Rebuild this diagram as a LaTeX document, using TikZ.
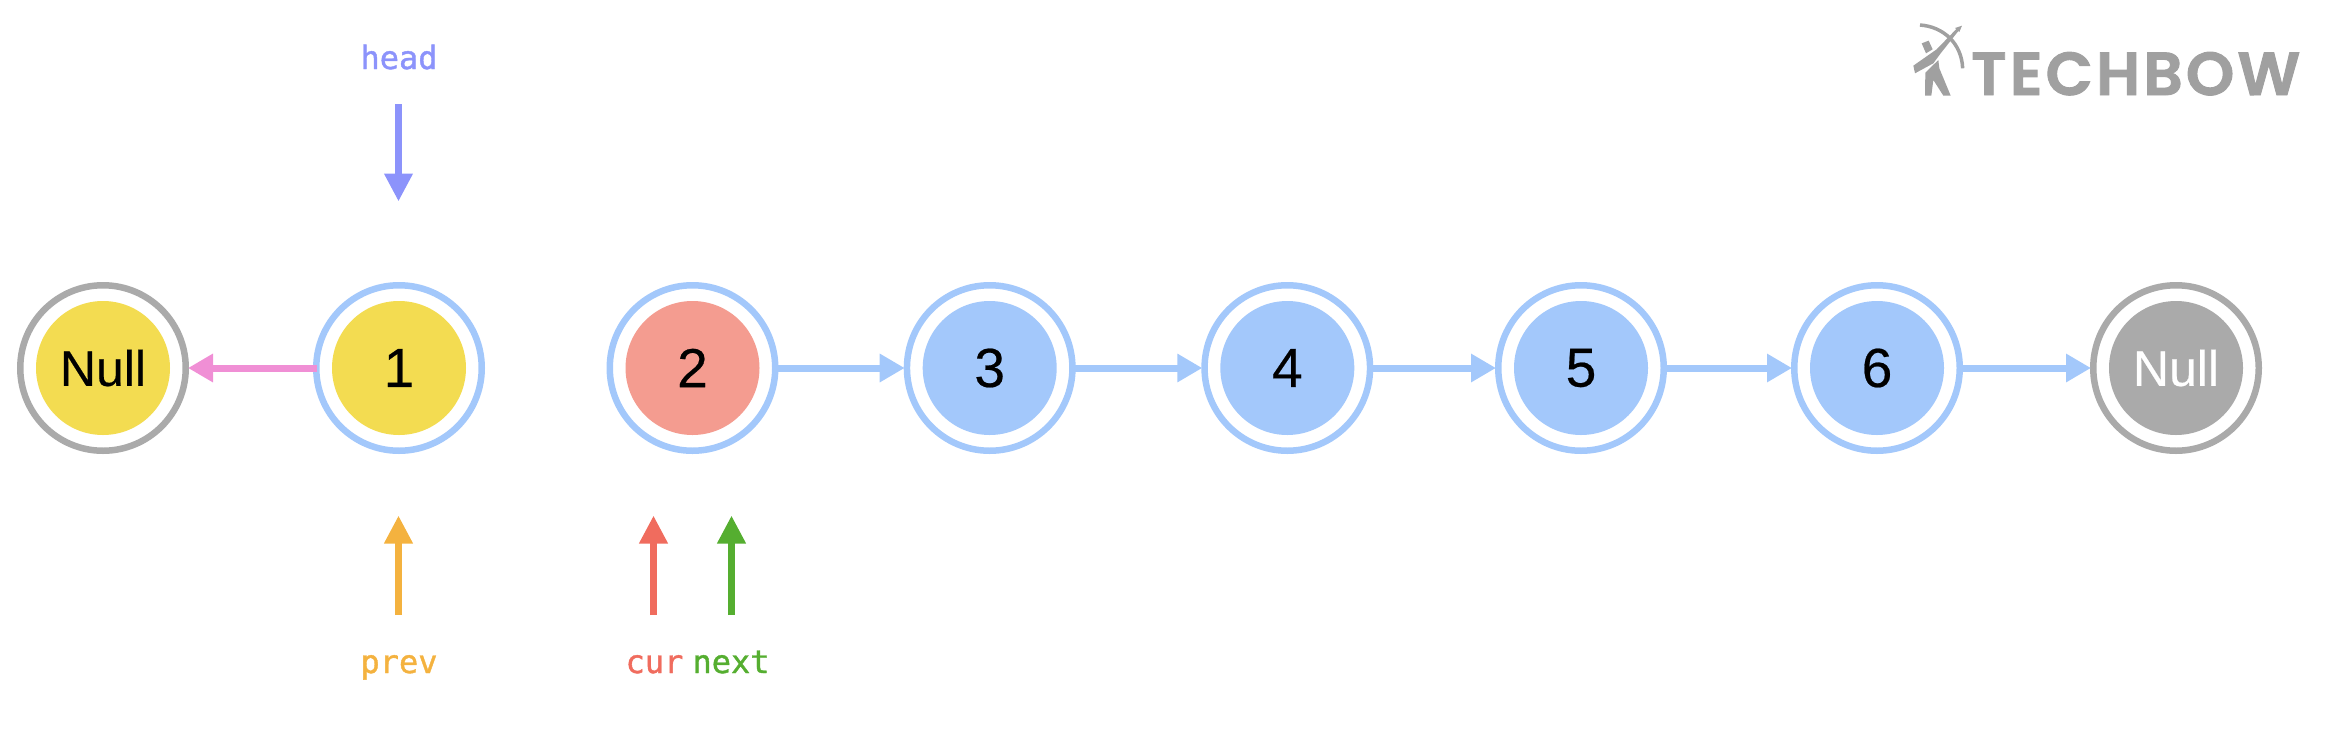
\documentclass[tikz,border=0pt]{standalone}
\usepackage{fontspec}
\setmainfont{Liberation Sans}
\newfontfamily\nodefont{Liberation Sans}[RawFeature={embolden=0.4}]
\newfontfamily\labelfont{DejaVu Sans Mono}[RawFeature={embolden=1.2}]
\newfontfamily\logofont{Poppins SemiBold}[LetterSpace=5,RawFeature={embolden=1.5}]
\usetikzlibrary{arrows.meta}
\definecolor{cyellow}{HTML}{F3DC51}
\definecolor{cred}{HTML}{F49C90}
\definecolor{cblue}{HTML}{A3C8FB}
\definecolor{cgray}{HTML}{AAAAAA}
\definecolor{cpink}{HTML}{F08FD5}
\definecolor{corange}{HTML}{F4B23F}
\definecolor{ccoral}{HTML}{F06C5E}
\definecolor{cgreen}{HTML}{55AE30}
\definecolor{cpurple}{HTML}{8C93FB}
\definecolor{clogo}{HTML}{A0A0A0}
\tikzset{
  x=1pt,y=-1pt,
  ring/.style={circle,draw=#1,fill=white,line width=6.5pt,minimum size=165.5pt,inner sep=0pt},
  core/.style={circle,fill=#1,minimum size=134pt,inner sep=0pt,font=\nodefont\fontsize{50}{60}\selectfont},
  digit/.style={circle,fill=#1,minimum size=134pt,inner sep=0pt,font=\nodefont\fontsize{55}{60}\selectfont},
  link/.style={line width=7pt,draw=#1,shorten <=-3.5pt,shorten >=-1pt,-{Triangle[length=25pt,width=27pt,fill=#1]}},
  vlink/.style={line width=7pt,draw=#1,shorten >=-1.5pt,-{Triangle[length=28pt,width=27pt,fill=#1]}},
  ptr/.style={text=#1,anchor=base,font=\labelfont\fontsize{32}{36}\selectfont}
}
\begin{document}
\begin{tikzpicture}
\useasboundingbox (0,0) rectangle (2340,742);
% nodes
\node[ring=cgray] (o0) at (103,368) {};
\node[core=cyellow] (n0) at (o0) {Null};
\node[ring=cblue] (o1) at (399,368) {};
\node[digit=cyellow] (n1) at (o1) {1};
\node[ring=cblue] (o2) at (692.5,368) {};
\node[digit=cred] (n2) at (o2) {2};
\node[ring=cblue] (o3) at (989.7,368) {};
\node[digit=cblue] (n3) at (o3) {3};
\node[ring=cblue] (o4) at (1287.3,368) {};
\node[digit=cblue] (n4) at (o4) {4};
\node[ring=cblue] (o5) at (1581,368) {};
\node[digit=cblue] (n5) at (o5) {5};
\node[ring=cblue] (o6) at (1877,368) {};
\node[digit=cblue] (n6) at (o6) {6};
\node[ring=cgray] (o7) at (2176,368) {};
\node[core=cgray,text=white] (n7) at (o7) {Null};
% links
\draw[link=cpink] (o1.west) -- (o0.east);
\draw[link=cblue] (o2.east) -- (o3.west);
\draw[link=cblue] (o3.east) -- (o4.west);
\draw[link=cblue] (o4.east) -- (o5.west);
\draw[link=cblue] (o5.east) -- (o6.west);
\draw[link=cblue] (o6.east) -- (o7.west);
% pointers
\node[ptr=cpurple] (lh) at (399,69) {head};
\node[ptr=corange] (lp) at (399,673) {prev};
\node[ptr=ccoral] (lc) at (654.5,673) {cur};
\node[ptr=cgreen] (ln) at (731,673) {next};
\coordinate (hs) at (398.5,104);
\coordinate (ht) at (398.5,200);
\coordinate (ps) at (398.5,615);
\coordinate (pt) at (398.5,517);
\coordinate (cs) at (653.5,615);
\coordinate (ct) at (653.5,517);
\coordinate (ns) at (731.5,615);
\coordinate (nt) at (731.5,517);
\draw[vlink=cpurple] (hs) -- (ht);
\draw[vlink=corange] (ps) -- (pt);
\draw[vlink=ccoral] (cs) -- (ct);
\draw[vlink=cgreen] (ns) -- (nt);
% logo
\node[anchor=base west,inner sep=0pt,text=clogo] (logo) at (1971,95)
  {\resizebox{329pt}{43pt}{\logofont TECHBOW}};
\begin{scope}[shift={(1880,0)},x=0.3333pt,y=-0.3333pt]
  \draw[clogo,line width=3.5pt] (120,75) .. controls (190,80) and (245,130) .. (248,205);
  \fill[clogo] (100,197) -- (105,220) -- (160,190) -- (182,160) -- (236,92) -- (230,86) -- (170,148) -- cycle;
  \fill[clogo] (246,77) -- (225,84) -- (231,90) -- (238,96) -- cycle;
  \fill[clogo] (125,130) -- (146,122) -- (158,148) -- (138,160) -- cycle;
  \fill[clogo] (135,287) -- (154,287) -- (160,240) -- (190,287) -- (212,287) -- (178,205) -- (175,180) -- (136,218) -- cycle;
\end{scope}
\end{tikzpicture}
\end{document}
